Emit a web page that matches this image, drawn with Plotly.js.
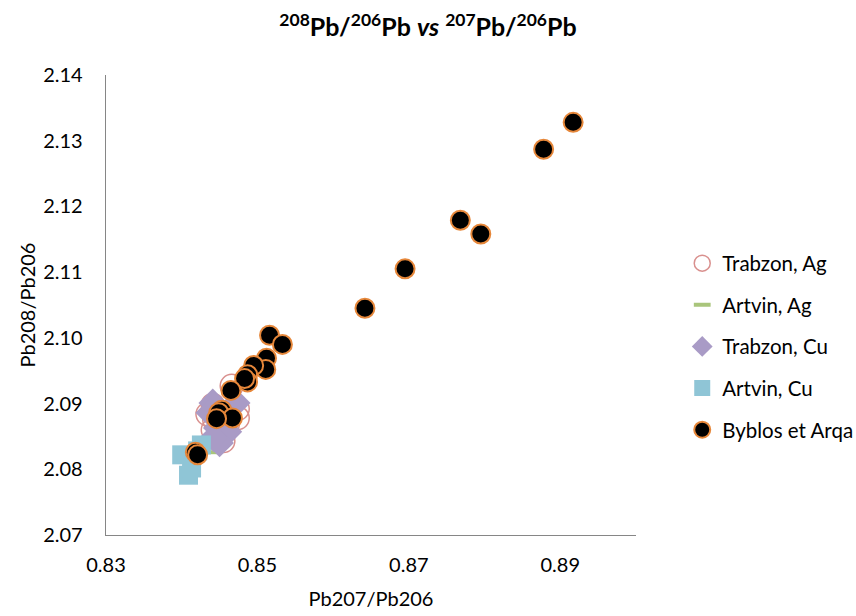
<!DOCTYPE html>
<html><head><meta charset="utf-8">
<script src="https://cdn.plot.ly/plotly-3.0.1.min.js"></script>
<style>body{margin:0;background:#fff}#chart{width:856px;height:616px}</style>
</head><body><div id="chart"></div>
<script>
// Trabzon, Ag
const trabzonAgX = [0.8466, 0.8441, 0.8434, 0.8474, 0.8474, 0.8441, 0.8450, 0.8455, 0.8461, 0.8443];
const trabzonAgY = [2.0927, 2.0898, 2.0884, 2.0878, 2.0892, 2.0860, 2.0855, 2.0843, 2.0869, 2.0875];
// Artvin, Ag
const artvinAgX = [0.8441, 0.8436];
const artvinAgY = [2.0826, 2.0833];
// Trabzon, Cu
const trabzonCuX = [0.8441, 0.8472, 0.8437, 0.8457, 0.8447, 0.8461, 0.8450, 0.8442];
const trabzonCuY = [2.0901, 2.0901, 2.0886, 2.0879, 2.0863, 2.0857, 2.0840, 2.0848];
// Artvin, Cu
const artvinCuX = [0.8400, 0.8426, 0.8409, 0.8413, 0.8421];
const artvinCuY = [2.0822, 2.0837, 2.0791, 2.0802, 2.0828];
// Byblos et Arqa
const byblosX = [0.8917, 0.8878, 0.8768, 0.8795, 0.8695, 0.8642, 0.8516, 0.8533, 0.8512, 0.8511, 0.8495,
                 0.8487, 0.8487, 0.8483, 0.8465, 0.8453, 0.8449, 0.8467, 0.8446, 0.8418, 0.8421];
const byblosY = [2.1328, 2.1287, 2.1179, 2.1158, 2.1105, 2.1045, 2.1004, 2.0990, 2.0969, 2.0952, 2.0958,
                 2.0944, 2.0933, 2.0938, 2.0920, 2.0890, 2.0886, 2.0878, 2.0877, 2.0826, 2.0822];

const font = {family: 'Lato, "Open Sans", sans-serif', color: '#000'};
const f = s => Object.assign({size: s}, font);

const traces = [
  {name: 'Trabzon, Ag', x: trabzonAgX, y: trabzonAgY, type: 'scatter', mode: 'markers', legendgroup: 'a',
   marker: {symbol: 'circle-open', size: 23, color: '#d9908e', line: {width: 1.5}}},
  {name: 'Artvin, Ag', x: artvinAgX, y: artvinAgY, type: 'scatter', mode: 'markers', legendgroup: 'b',
   marker: {symbol: 'line-ew', size: 12, color: '#a9c57b', line: {width: 4, color: '#a9c57b'}}},
  {name: 'Trabzon, Cu', x: trabzonCuX, y: trabzonCuY, type: 'scatter', mode: 'markers', legendgroup: 'c',
   marker: {symbol: 'diamond', size: 22, color: '#a99bc6'}},
  {name: 'Artvin, Cu', x: artvinCuX, y: artvinCuY, type: 'scatter', mode: 'markers', legendgroup: 'd',
   marker: {symbol: 'square', size: 19, color: '#8fc5d6'}},
  {name: 'Byblos et Arqa', x: byblosX, y: byblosY, type: 'scatter', mode: 'markers', legendgroup: 'e',
   marker: {symbol: 'circle', size: 19, color: '#000', line: {width: 2, color: '#e6873a'}}}
];

const layout = {
  width: 856, height: 616,
  margin: {l: 106, r: 220, t: 75, b: 81},
  paper_bgcolor: '#fff', plot_bgcolor: '#fff',
  font: f(20),
  title: {text: '<b><sup>208</sup>Pb/<sup>206</sup>Pb <i>vs</i> <sup>207</sup>Pb/<sup>206</sup>Pb</b>',
          x: 0.5, xref: 'container', xanchor: 'center', y: 0.955, yref: 'container', yanchor: 'middle',
          font: f(25)},
  xaxis: {range: [0.83, 0.90], tickvals: [0.83, 0.85, 0.87, 0.89], tickformat: '.2f',
          showgrid: false, zeroline: false, showline: true, linecolor: '#868686', linewidth: 1.3,
          ticks: '', ticklabelstandoff: 12, tickfont: f(20),
          title: {text: 'Pb207/Pb206', standoff: 16, font: f(20)}},
  yaxis: {range: [2.07, 2.14], dtick: 0.01, tick0: 2.07, tickformat: '.2f',
          showgrid: false, zeroline: false, showline: true, linecolor: '#868686', linewidth: 1.3,
          ticks: '', ticklabelstandoff: 18, tickfont: f(20),
          title: {text: 'Pb208/Pb206', standoff: 2, font: f(20)}},
  legend: {x: 0.797, xref: 'container', xanchor: 'left', y: 0.437, yref: 'container', yanchor: 'middle',
           tracegroupgap: 12, font: f(20.5), bgcolor: 'rgba(0,0,0,0)', itemwidth: 30}
};

Plotly.newPlot('chart', traces, layout, {displayModeBar: false, staticPlot: true});
</script></body></html>
